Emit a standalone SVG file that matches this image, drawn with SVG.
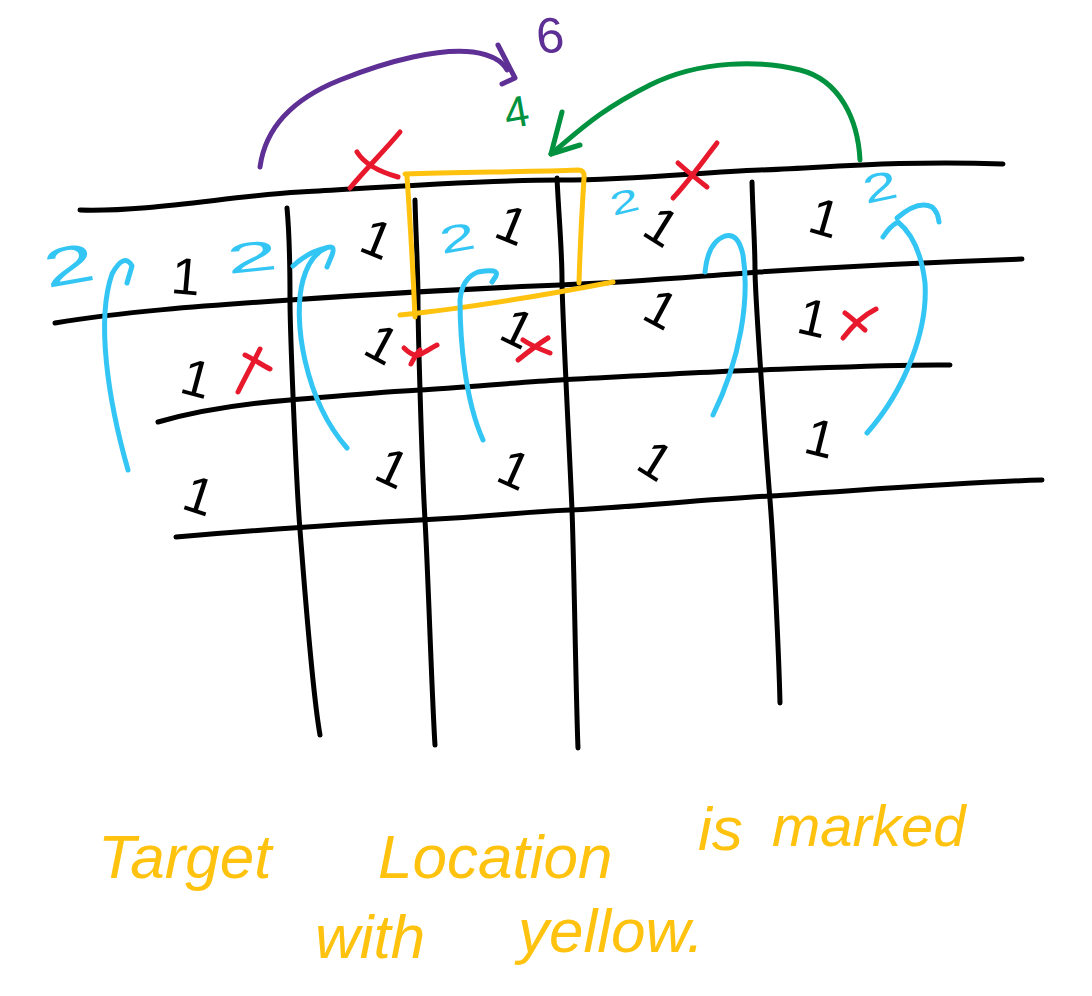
<svg xmlns="http://www.w3.org/2000/svg" width="1092" height="996" viewBox="0 0 1092 996">
<style>
.g{fill:none;stroke:#000;stroke-width:5;stroke-linecap:round;stroke-linejoin:round}
.y{fill:none;stroke:#FFC20E;stroke-width:5;stroke-linecap:round;stroke-linejoin:round}
.r{fill:none;stroke:#E8192C;stroke-width:5;stroke-linecap:round;stroke-linejoin:round}
.b{fill:none;stroke:#33C6F4;stroke-width:5;stroke-linecap:round;stroke-linejoin:round}
.p{fill:none;stroke:#5E2F94;stroke-width:5;stroke-linecap:round;stroke-linejoin:round}
.gr{fill:none;stroke:#00923F;stroke-width:5;stroke-linecap:round;stroke-linejoin:round}
.one{font-family:"Liberation Sans",Arial,sans-serif;font-size:52px;fill:#000}
.two{font-family:"Liberation Sans",Arial,sans-serif;font-size:40px;fill:#33C6F4}
.hand{font-family:"Liberation Sans",Arial,sans-serif;font-style:italic;font-size:62px;fill:#FFC20E}
</style>
<rect width="1092" height="996" fill="#fff"/>
<g id="grid">
<path class="g" d="M80,210 C150,212 230,196 300,192 S480,180 560,180 S700,172 760,170 S900,160 1003,164"/>
<path class="g" d="M55,323 C120,312 200,306 290,300 S480,288 560,285 S700,276 760,272 S930,262 1022,259"/>
<path class="g" d="M158,422 C200,410 240,404 290,400 S380,392 420,390 S520,382 560,380 S700,372 760,370 S900,364 950,365"/>
<path class="g" d="M176,537 C260,530 340,524 420,520 S520,512 570,510 S700,500 770,496 S960,482 1042,480"/>
<path class="g" d="M287,208 C290,240 290,270 290,300 S296,480 300,530 S312,690 320,735"/>
<path class="g" d="M415,200 C416,240 418,270 418,300 S422,470 425,520 S432,700 435,745"/>
<path class="g" d="M557,178 C559,220 562,250 562,280 S570,460 572,510 S576,700 578,748"/>
<path class="g" d="M752,182 C753,220 755,245 755,270 S766,450 770,500 S779,660 780,703"/>
</g>
<g id="target">
<path class="y" d="M405,174 C460,172 530,172 578,170 Q585,170 584,178 C582,210 580,250 579,283"/>
<path class="y" d="M407,176 C410,220 413,270 415,317"/>
<path class="y" d="M400,315 C470,308 540,296 613,282"/>
</g>
<g id="ones">
<text class="one" transform="translate(170,293) rotate(5)">1</text>
<text class="one" transform="translate(357,250) rotate(22)">1</text>
<text class="one" transform="translate(492,236) rotate(22)">1</text>
<text class="one" transform="translate(640,234) rotate(32)">1</text>
<text class="one" transform="translate(806,231) rotate(16)">1</text>
<text class="one" transform="translate(178,392) rotate(15)">1</text>
<text class="one" transform="translate(361,353) rotate(28)">1</text>
<text class="one" transform="translate(497,338) rotate(26)">1</text>
<text class="one" transform="translate(640,318) rotate(28)">1</text>
<text class="one" transform="translate(795,332) rotate(13)">1</text>
<text class="one" transform="translate(180,508) rotate(18)">1</text>
<text class="one" transform="translate(372,478) rotate(25)">1</text>
<text class="one" transform="translate(494,480) rotate(24)">1</text>
<text class="one" transform="translate(634,468) rotate(32)">1</text>
<text class="one" transform="translate(802,452) rotate(14)">1</text>
</g>
<g id="blocked">
<path class="r" d="M400,132 C385,150 365,170 350,188"/>
<path class="r" d="M357,152 C365,165 380,172 398,177"/>
<path class="r" d="M717,143 C700,165 688,182 673,198"/>
<path class="r" d="M678,163 C688,172 698,180 707,187"/>
<path class="r" d="M260,349 C252,365 245,378 238,392"/>
<path class="r" d="M245,355 C255,360 262,365 270,369"/>
<path class="r" d="M404,348 C410,354 415,356 419,355 C426,352 431,348 437,345"/>
<path class="r" d="M411,364 C414,358 418,352 420,350"/>
<path class="r" d="M518,360 C528,352 538,344 548,338"/>
<path class="r" d="M523,340 C532,346 542,350 550,353"/>
<path class="r" d="M843,338 C853,325 864,315 876,309"/>
<path class="r" d="M845,313 C852,318 858,324 865,330"/>
</g>
<g id="connectors">
<path class="b" d="M128,470 C108,400 96,320 112,274 Q124,252 132,266 L127,283"/>
<path class="b" d="M347,448 C305,400 292,320 303,280 Q310,255 326,248 Q336,244 332,255 L327,267"/>
<path class="b" d="M293,266 Q308,252 326,248"/>
<path class="b" d="M483,440 C465,400 460,340 460,300 Q462,278 478,272 Q500,268 496,276 L492,282"/>
<path class="b" d="M713,415 C740,360 750,300 743,255 Q738,232 725,236 Q708,242 705,272"/>
<path class="b" d="M867,433 C905,390 928,330 925,283 Q920,240 898,222 Q890,226 883,237"/>
<path class="b" d="M897,218 Q918,200 932,207 Q938,212 939,222"/>
<path class="p" d="M260,167 C265,130 290,100 340,80 S440,48 473,52 Q500,56 507,70"/>
<path class="p" d="M498,45 L515,78 L502,84"/>
<path class="gr" d="M860,160 C858,120 840,80 800,70 S700,60 650,85 S580,130 551,154"/>
<path class="gr" d="M562,112 L551,154 L580,145"/>
</g>
<g id="labels">
<text class="two" transform="translate(47,288) rotate(-10) scale(2.3,1.35)">2</text>
<text class="two" transform="translate(228,274) rotate(-6) scale(2.3,1.05)">2</text>
<text class="two" transform="translate(442,254) rotate(-10) scale(1.6,0.95)">2</text>
<text class="two" transform="translate(613,216) rotate(-14) scale(1.3,0.8)">2</text>
<text class="two" transform="translate(866,204) rotate(-12) scale(1.55,1)">2</text>
<text transform="translate(538,54) rotate(-6)" font-family="Liberation Sans, Arial, sans-serif" font-size="50" fill="#5E2F94">6</text>
<text transform="translate(507,129) rotate(-10)" font-family="Liberation Sans, Arial, sans-serif" font-size="44" fill="#00923F">4</text>
</g>
<g id="caption">
<text class="hand"><tspan x="98" y="878">Target</tspan><tspan x="378" y="878">Location</tspan><tspan x="698" y="850">is</tspan><tspan x="772" y="846" font-size="58">marked</tspan><tspan x="315" y="958">with</tspan><tspan x="518" y="952">yellow.</tspan></text>
</g>
</svg>
